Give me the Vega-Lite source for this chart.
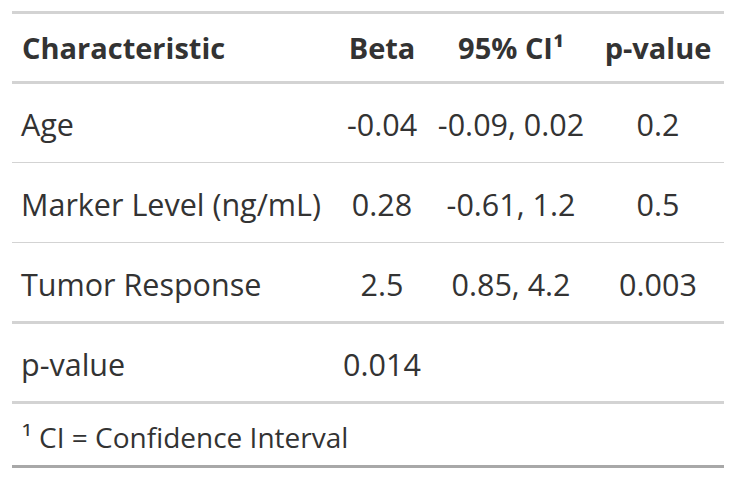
{
  "$schema": "https://vega.github.io/schema/vega-lite/v6.json",
  "autosize": {"type": "pad"},
  "padding": {"left": 10, "top": 10.5, "right": 10, "bottom": 10},
  "background": "white",
  "spacing": 0,
  "bounds": "flush",
  "columns": 4,
  "config": {
    "view": {"stroke": null},
    "concat": {"spacing": 0},
    "text": {"font": "Open Sans", "fontSize": 30.5, "color": "#333333"}
  },
  "datasets": {
    "header": [
      {"section": "header", "column": "Characteristic", "label": "Characteristic"},
      {"section": "header", "column": "Beta", "label": "Beta"},
      {"section": "header", "column": "CI", "label": "95% CI¹"},
      {"section": "header", "column": "p", "label": "p-value"}
    ],
    "body": [
      {"row": "Age", "characteristic": "Age", "beta": "-0.04", "ci": "-0.09, 0.02", "p": "0.2"},
      {"row": "Marker Level (ng/mL)", "characteristic": "Marker Level (ng/mL)", "beta": "0.28", "ci": "-0.61, 1.2", "p": "0.5"},
      {"row": "Tumor Response", "characteristic": "Tumor Response", "beta": "2.5", "ci": "0.85, 4.2", "p": "0.003"},
      {"row": "p-value", "characteristic": "p-value", "beta": "0.014", "ci": "", "p": ""}
    ],
    "footnote": [
      {"section": "footnote", "text": "¹ CI = Confidence Interval"}
    ]
  },
  "concat": [
    {
      "width": 322, "height": 70,
      "data": {"name": "header"},
      "transform": [{"filter": "datum.column === 'Characteristic'"}],
      "layer": [
        {"mark": {"type": "text", "align": "left", "dx": 10, "dy": 2, "fontWeight": "bold", "fontSize": 29},
         "encoding": {"text": {"field": "label"},
           "x": {"datum": "c", "scale": {"type": "band", "domain": ["c"], "paddingInner": 0, "paddingOuter": 0}, "bandPosition": 0, "axis": null},
           "y": {"field": "section", "type": "nominal", "scale": {"type": "band", "domain": ["header"], "paddingInner": 0, "paddingOuter": 0}, "axis": null}}},
        {"mark": {"type": "rule", "color": "#D3D3D3", "strokeWidth": 3},
         "encoding": {"y": {"field": "section", "type": "nominal", "bandPosition": 0, "axis": null}}}
      ]
    },
    {
      "width": 96, "height": 70,
      "data": {"name": "header"},
      "transform": [{"filter": "datum.column === 'Beta'"}],
      "layer": [
        {"mark": {"type": "text", "align": "center", "dy": 2, "fontWeight": "bold", "fontSize": 29},
         "encoding": {"text": {"field": "label"},
           "x": {"datum": "c", "scale": {"type": "band", "domain": ["c"], "paddingInner": 0, "paddingOuter": 0}, "bandPosition": 0.5, "axis": null},
           "y": {"field": "section", "type": "nominal", "scale": {"type": "band", "domain": ["header"], "paddingInner": 0, "paddingOuter": 0}, "axis": null}}},
        {"mark": {"type": "rule", "color": "#D3D3D3", "strokeWidth": 3},
         "encoding": {"y": {"field": "section", "type": "nominal", "bandPosition": 0, "axis": null}}}
      ]
    },
    {
      "width": 162, "height": 70,
      "data": {"name": "header"},
      "transform": [{"filter": "datum.column === 'CI'"}],
      "layer": [
        {"mark": {"type": "text", "align": "center", "dy": 2, "fontWeight": "bold", "fontSize": 29},
         "encoding": {"text": {"field": "label"},
           "x": {"datum": "c", "scale": {"type": "band", "domain": ["c"], "paddingInner": 0, "paddingOuter": 0}, "bandPosition": 0.5, "axis": null},
           "y": {"field": "section", "type": "nominal", "scale": {"type": "band", "domain": ["header"], "paddingInner": 0, "paddingOuter": 0}, "axis": null}}},
        {"mark": {"type": "rule", "color": "#D3D3D3", "strokeWidth": 3},
         "encoding": {"y": {"field": "section", "type": "nominal", "bandPosition": 0, "axis": null}}}
      ]
    },
    {
      "width": 132, "height": 70,
      "data": {"name": "header"},
      "transform": [{"filter": "datum.column === 'p'"}],
      "layer": [
        {"mark": {"type": "text", "align": "center", "dy": 2, "fontWeight": "bold", "fontSize": 29},
         "encoding": {"text": {"field": "label"},
           "x": {"datum": "c", "scale": {"type": "band", "domain": ["c"], "paddingInner": 0, "paddingOuter": 0}, "bandPosition": 0.5, "axis": null},
           "y": {"field": "section", "type": "nominal", "scale": {"type": "band", "domain": ["header"], "paddingInner": 0, "paddingOuter": 0}, "axis": null}}},
        {"mark": {"type": "rule", "color": "#D3D3D3", "strokeWidth": 3},
         "encoding": {"y": {"field": "section", "type": "nominal", "bandPosition": 0, "axis": null}}}
      ]
    },
    {
      "width": 322, "height": 320,
      "data": {"name": "body"},
      "layer": [
        {"mark": {"type": "text", "align": "left", "dx": 9, "dy": 4},
         "encoding": {"text": {"field": "characteristic"},
           "x": {"datum": "c", "scale": {"type": "band", "domain": ["c"], "paddingInner": 0, "paddingOuter": 0}, "bandPosition": 0, "axis": null},
           "y": {"field": "row", "type": "nominal", "sort": null, "scale": {"type": "band", "domain": ["Age", "Marker Level (ng/mL)", "Tumor Response", "p-value"], "paddingInner": 0, "paddingOuter": 0}, "axis": null}}},
        {"transform": [{"filter": "datum.row === 'Marker Level (ng/mL)' || datum.row === 'Tumor Response'"}],
         "mark": {"type": "rule", "color": "#D3D3D3", "strokeWidth": 1},
         "encoding": {"y": {"field": "row", "type": "nominal", "bandPosition": 0, "axis": null}}},
        {"transform": [{"filter": "datum.row === 'Age' || datum.row === 'p-value'"}],
         "mark": {"type": "rule", "color": "#D3D3D3", "strokeWidth": 3},
         "encoding": {"y": {"field": "row", "type": "nominal", "bandPosition": 0, "axis": null}}}
      ]
    },
    {
      "width": 96, "height": 320,
      "data": {"name": "body"},
      "layer": [
        {"mark": {"type": "text", "align": "center", "dy": 4},
         "encoding": {"text": {"field": "beta"},
           "x": {"datum": "c", "scale": {"type": "band", "domain": ["c"], "paddingInner": 0, "paddingOuter": 0}, "bandPosition": 0.5, "axis": null},
           "y": {"field": "row", "type": "nominal", "sort": null, "scale": {"type": "band", "domain": ["Age", "Marker Level (ng/mL)", "Tumor Response", "p-value"], "paddingInner": 0, "paddingOuter": 0}, "axis": null}}},
        {"transform": [{"filter": "datum.row === 'Marker Level (ng/mL)' || datum.row === 'Tumor Response'"}],
         "mark": {"type": "rule", "color": "#D3D3D3", "strokeWidth": 1},
         "encoding": {"y": {"field": "row", "type": "nominal", "bandPosition": 0, "axis": null}}},
        {"transform": [{"filter": "datum.row === 'Age' || datum.row === 'p-value'"}],
         "mark": {"type": "rule", "color": "#D3D3D3", "strokeWidth": 3},
         "encoding": {"y": {"field": "row", "type": "nominal", "bandPosition": 0, "axis": null}}}
      ]
    },
    {
      "width": 162, "height": 320,
      "data": {"name": "body"},
      "layer": [
        {"mark": {"type": "text", "align": "center", "dy": 4},
         "encoding": {"text": {"field": "ci"},
           "x": {"datum": "c", "scale": {"type": "band", "domain": ["c"], "paddingInner": 0, "paddingOuter": 0}, "bandPosition": 0.5, "axis": null},
           "y": {"field": "row", "type": "nominal", "sort": null, "scale": {"type": "band", "domain": ["Age", "Marker Level (ng/mL)", "Tumor Response", "p-value"], "paddingInner": 0, "paddingOuter": 0}, "axis": null}}},
        {"transform": [{"filter": "datum.row === 'Marker Level (ng/mL)' || datum.row === 'Tumor Response'"}],
         "mark": {"type": "rule", "color": "#D3D3D3", "strokeWidth": 1},
         "encoding": {"y": {"field": "row", "type": "nominal", "bandPosition": 0, "axis": null}}},
        {"transform": [{"filter": "datum.row === 'Age' || datum.row === 'p-value'"}],
         "mark": {"type": "rule", "color": "#D3D3D3", "strokeWidth": 3},
         "encoding": {"y": {"field": "row", "type": "nominal", "bandPosition": 0, "axis": null}}}
      ]
    },
    {
      "width": 132, "height": 320,
      "data": {"name": "body"},
      "layer": [
        {"mark": {"type": "text", "align": "center", "dy": 4},
         "encoding": {"text": {"field": "p"},
           "x": {"datum": "c", "scale": {"type": "band", "domain": ["c"], "paddingInner": 0, "paddingOuter": 0}, "bandPosition": 0.5, "axis": null},
           "y": {"field": "row", "type": "nominal", "sort": null, "scale": {"type": "band", "domain": ["Age", "Marker Level (ng/mL)", "Tumor Response", "p-value"], "paddingInner": 0, "paddingOuter": 0}, "axis": null}}},
        {"transform": [{"filter": "datum.row === 'Marker Level (ng/mL)' || datum.row === 'Tumor Response'"}],
         "mark": {"type": "rule", "color": "#D3D3D3", "strokeWidth": 1},
         "encoding": {"y": {"field": "row", "type": "nominal", "bandPosition": 0, "axis": null}}},
        {"transform": [{"filter": "datum.row === 'Age' || datum.row === 'p-value'"}],
         "mark": {"type": "rule", "color": "#D3D3D3", "strokeWidth": 3},
         "encoding": {"y": {"field": "row", "type": "nominal", "bandPosition": 0, "axis": null}}}
      ]
    },
    {
      "width": 322, "height": 64,
      "data": {"name": "footnote"},
      "layer": [
        {"mark": {"type": "text", "align": "left", "dx": 10, "dy": 5, "fontSize": 28},
         "encoding": {"text": {"field": "text"},
           "x": {"datum": "c", "scale": {"type": "band", "domain": ["c"], "paddingInner": 0, "paddingOuter": 0}, "bandPosition": 0, "axis": null},
           "y": {"field": "section", "type": "nominal", "scale": {"type": "band", "domain": ["footnote"], "paddingInner": 0, "paddingOuter": 0}, "axis": null}}},
        {"mark": {"type": "rule", "color": "#D3D3D3", "strokeWidth": 3},
         "encoding": {"y": {"field": "section", "type": "nominal", "bandPosition": 0, "axis": null}}},
        {"mark": {"type": "rule", "color": "#A8A8A8", "strokeWidth": 3},
         "encoding": {"y": {"field": "section", "type": "nominal", "bandPosition": 1, "axis": null}}}
      ]
    },
    {
      "width": 96, "height": 64,
      "data": {"name": "footnote"},
      "layer": [
        {"mark": {"type": "rule", "color": "#D3D3D3", "strokeWidth": 3},
         "encoding": {"y": {"field": "section", "type": "nominal", "scale": {"type": "band", "domain": ["footnote"], "paddingInner": 0, "paddingOuter": 0}, "bandPosition": 0, "axis": null}}},
        {"mark": {"type": "rule", "color": "#A8A8A8", "strokeWidth": 3},
         "encoding": {"y": {"field": "section", "type": "nominal", "bandPosition": 1, "axis": null}}}
      ]
    },
    {
      "width": 162, "height": 64,
      "data": {"name": "footnote"},
      "layer": [
        {"mark": {"type": "rule", "color": "#D3D3D3", "strokeWidth": 3},
         "encoding": {"y": {"field": "section", "type": "nominal", "scale": {"type": "band", "domain": ["footnote"], "paddingInner": 0, "paddingOuter": 0}, "bandPosition": 0, "axis": null}}},
        {"mark": {"type": "rule", "color": "#A8A8A8", "strokeWidth": 3},
         "encoding": {"y": {"field": "section", "type": "nominal", "bandPosition": 1, "axis": null}}}
      ]
    },
    {
      "width": 132, "height": 64,
      "data": {"name": "footnote"},
      "layer": [
        {"mark": {"type": "rule", "color": "#D3D3D3", "strokeWidth": 3},
         "encoding": {"y": {"field": "section", "type": "nominal", "scale": {"type": "band", "domain": ["footnote"], "paddingInner": 0, "paddingOuter": 0}, "bandPosition": 0, "axis": null}}},
        {"mark": {"type": "rule", "color": "#A8A8A8", "strokeWidth": 3},
         "encoding": {"y": {"field": "section", "type": "nominal", "bandPosition": 1, "axis": null}}}
      ]
    }
  ]
}
